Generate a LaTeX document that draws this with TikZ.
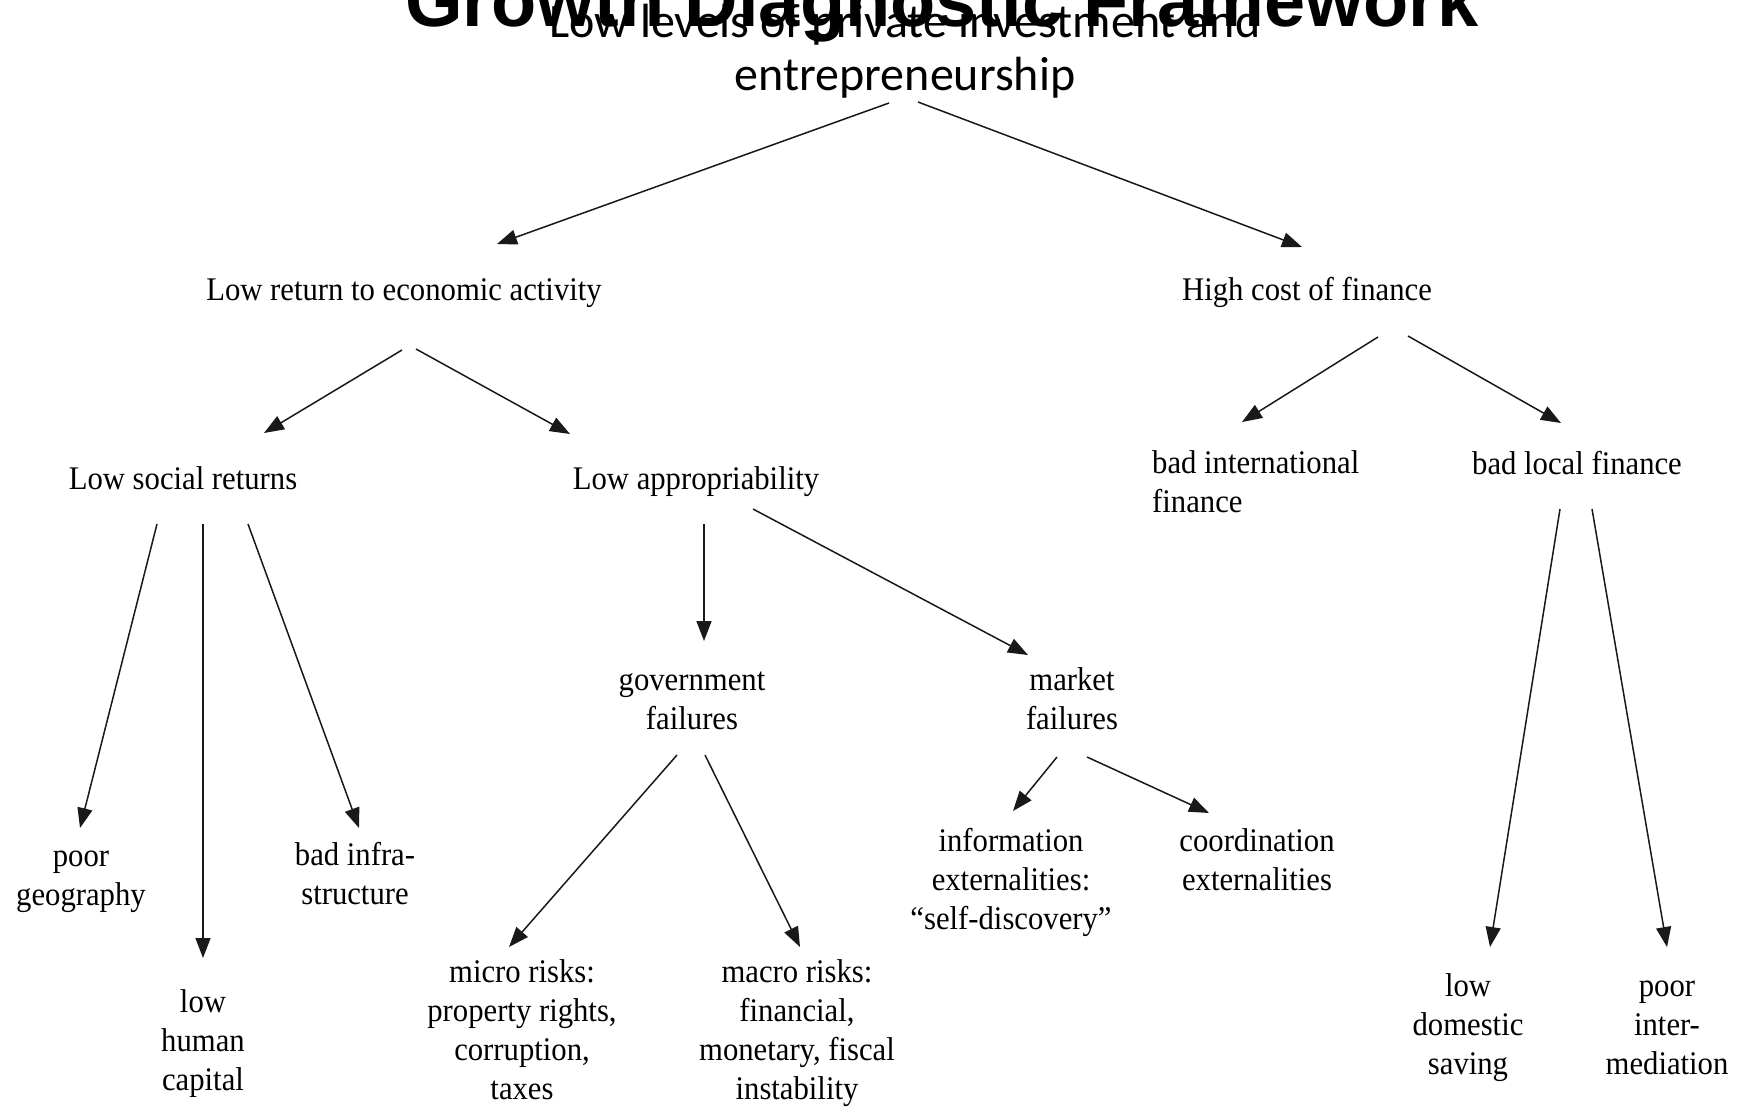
\documentclass[tikz,border=0pt]{standalone}
\usepackage{fontspec}
\setmainfont{Liberation Serif}[FakeStretch=0.93]
\newfontfamily\titlefont{Liberation Sans}
\newfontfamily\topfont{Carlito}
\usetikzlibrary{arrows.meta}
\begin{document}
\begin{tikzpicture}[x=1pt,y=-1pt,
  lbl/.style={font=\fontsize{33}{39}\selectfont, align=center, anchor=base, inner sep=0pt},
  arr/.style={-{Triangle[length=20pt,width=15pt]}, line width=1.5pt, draw=black!90}]
\clip (0,0) rectangle (1742,1109);
\fill[white] (0,0) rectangle (1742,1109);
% title and top (anchor base = last line baseline)
\node[font=\titlefont\bfseries\fontsize{74}{80}\selectfont, anchor=base, inner sep=0pt] (title) at (942,26) {Growth Diagnostic Framework};
\node[font=\topfont\fontsize{48}{53}\selectfont, align=center, anchor=base, inner sep=0pt] (top) at (905,90) {Low levels of private investment and\\entrepreneurship};
% level 1
\node[lbl] (lowret) at (404,300) {Low return to economic activity};
\node[lbl] (highcost) at (1307,300) {High cost of finance};
% level 2
\node[lbl] (lowsoc) at (183,489) {Low social returns};
\node[lbl] (lowapp) at (696,489) {Low appropriability};
\node[lbl, align=left, anchor=base west] (badintl) at (1152,512) {bad international\\finance};
\node[lbl] (badloc) at (1577,474) {bad local finance};
% level 3
\node[lbl] (poorgeo) at (81,905) {poor\\geography};
\node[lbl] (lowhum) at (203,1090) {low\\human\\capital};
\node[lbl] (badinfra) at (355,904) {bad infra-\\structure};
\node[lbl] (govfail) at (692,729) {government\\failures};
\node[lbl] (mktfail) at (1072,729) {market\\failures};
\node[lbl] (micro) at (522,1099) {micro risks:\\property rights,\\corruption,\\taxes};
\node[lbl] (macro) at (797,1099) {macro risks:\\financial,\\monetary, fiscal\\instability};
\node[lbl] (info) at (1011,929) {information\\externalities:\\``self-discovery''};
\node[lbl] (coord) at (1257,890) {coordination\\externalities};
\node[lbl] (lowdom) at (1468,1074) {low\\domestic\\saving};
\node[lbl] (poorint) at (1667,1074) {poor\\inter-\\mediation};
% connector end points
\coordinate (t1) at (889,103);  \coordinate (h1) at (497,244);
\coordinate (t2) at (918,102);  \coordinate (h2) at (1302,247);
\coordinate (t3) at (402,350);  \coordinate (h3) at (264,433);
\coordinate (t4) at (416,349);  \coordinate (h4) at (570,434);
\coordinate (t5) at (1378,337); \coordinate (h5) at (1242,422);
\coordinate (t6) at (1408,336); \coordinate (h6) at (1561,423);
\coordinate (t7) at (157,524);  \coordinate (h7) at (80,828);
\coordinate (t8) at (203,524);  \coordinate (h8) at (203,958);
\coordinate (t9) at (248,524);  \coordinate (h9) at (359,828);
\coordinate (t10) at (704,524); \coordinate (h10) at (704,641);
\coordinate (t11) at (753,509); \coordinate (h11) at (1028,655);
\coordinate (t12) at (677,755); \coordinate (h12) at (509,947);
\coordinate (t13) at (705,755); \coordinate (h13) at (800,947);
\coordinate (t14) at (1057,757);\coordinate (h14) at (1013,811);
\coordinate (t15) at (1087,757);\coordinate (h15) at (1209,813);
\coordinate (t16) at (1560,509);\coordinate (h16) at (1490,947);
\coordinate (t17) at (1592,509);\coordinate (h17) at (1667,947);
\foreach \i in {1,...,17} {\draw[arr] (t\i) -- (h\i);}
\end{tikzpicture}
\end{document}
